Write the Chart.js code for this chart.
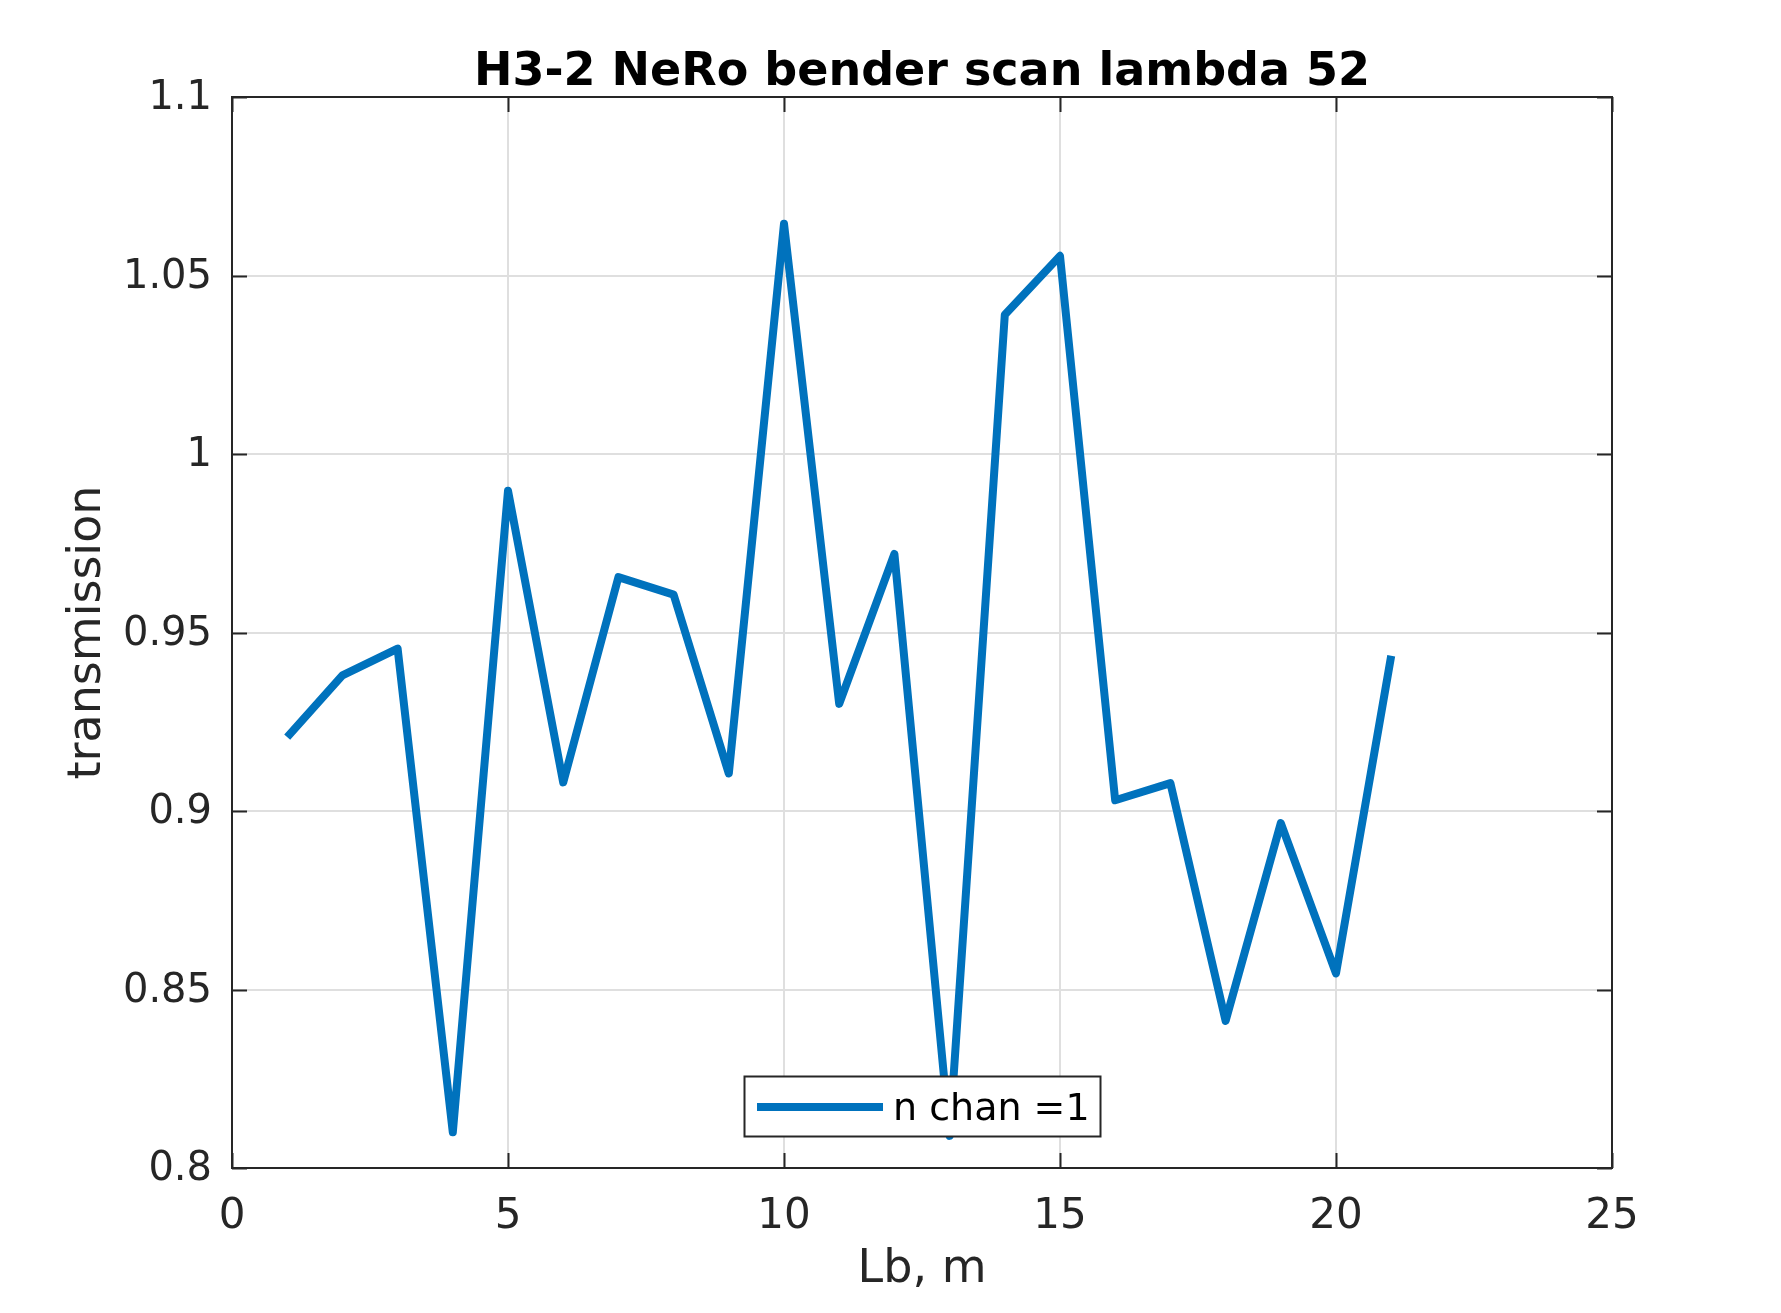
<!DOCTYPE html>
<html>
<head>
<meta charset="utf-8">
<script src="https://cdn.jsdelivr.net/npm/chart.js@4/dist/chart.umd.min.js"></script>
<style>
  html, body { margin: 0; padding: 0; background: #ffffff; }
  #wrap { width: 1781px; height: 1313px; }
</style>
</head>
<body>
<div id="wrap"><canvas id="c" width="1781" height="1313"></canvas></div>
<script>
const chartTitle = 'H3-2 NeRo bender scan lambda 52';
const xTitle = 'Lb, m';
const yTitle = 'transmission';
const seriesName = 'n chan =1';
const benderLength = [1, 2, 3, 4, 5, 6, 7, 8, 9, 10, 11, 12, 13, 14, 15, 16, 17, 18, 19, 20, 21];
const transmission = [0.9207, 0.938, 0.9455, 0.810, 0.9897, 0.908, 0.9655, 0.9606, 0.9105, 1.0645, 0.930,
                      0.972, 0.809, 1.039, 1.0555, 0.903, 0.9078, 0.8412, 0.8966, 0.8545, 0.9435];
const xTicks = [0, 5, 10, 15, 20, 25];
const yTicks = [0.8, 0.85, 0.9, 0.95, 1, 1.05, 1.1];
const yTickLabels = ['0.8', '0.85', '0.9', '0.95', '1', '1.05', '1.1'];

const AX = '#262626';
const LINE = '#0072BD';
const FONT = '"DejaVu Sans", "Liberation Sans", sans-serif';

const decor = {
  id: 'decor',
  beforeDraw(chart) {
    const ctx = chart.ctx;
    ctx.save();
    ctx.fillStyle = '#ffffff';
    ctx.fillRect(0, 0, chart.width, chart.height);
    ctx.restore();
  },
  afterDatasetsDraw(chart) {
    const ctx = chart.ctx;
    const a = chart.chartArea;
    const xs = chart.scales.x, ys = chart.scales.y;
    ctx.save();
    // inner tick marks
    ctx.strokeStyle = AX;
    ctx.lineWidth = 2;
    const tl = 15;
    ctx.beginPath();
    xTicks.forEach(v => {
      const px = Math.round(xs.getPixelForValue(v)) + 0.5;
      ctx.moveTo(px, a.bottom); ctx.lineTo(px, a.bottom - tl);
      ctx.moveTo(px, a.top); ctx.lineTo(px, a.top + tl);
    });
    yTicks.forEach(v => {
      const py = Math.round(ys.getPixelForValue(v)) + 0.5;
      ctx.moveTo(a.left, py); ctx.lineTo(a.left + tl, py);
      ctx.moveTo(a.right, py); ctx.lineTo(a.right - tl, py);
    });
    ctx.stroke();
    // box
    ctx.strokeRect(a.left, a.top, a.right - a.left, a.bottom - a.top);

    const cx = (a.left + a.right) / 2;
    // title
    ctx.fillStyle = '#000000';
    ctx.font = 'bold 46px ' + FONT;
    ctx.textAlign = 'center';
    ctx.textBaseline = 'alphabetic';
    ctx.fillText(chartTitle, cx, a.top - 12);
    // x title
    ctx.fillStyle = AX;
    ctx.font = '46px ' + FONT;
    ctx.fillText(xTitle, cx, a.bottom + 114);
    // y title
    ctx.save();
    ctx.translate(a.left - 132, (a.top + a.bottom) / 2);
    ctx.rotate(-Math.PI / 2);
    ctx.fillText(yTitle, 0, 0);
    ctx.restore();

    // legend (south, inside)
    const bw = 356, bh = 60;
    const bx = Math.round(cx - bw / 2), by = Math.round(a.bottom - 32 - bh);
    ctx.fillStyle = '#ffffff';
    ctx.fillRect(bx, by, bw, bh);
    ctx.strokeStyle = AX;
    ctx.lineWidth = 2;
    ctx.strokeRect(bx + 0.5, by + 0.5, bw, bh);
    ctx.strokeStyle = LINE;
    ctx.lineWidth = 8;
    ctx.lineCap = 'butt';
    ctx.beginPath();
    ctx.moveTo(bx + 13, by + 31);
    ctx.lineTo(bx + 139, by + 31);
    ctx.stroke();
    ctx.fillStyle = '#000000';
    ctx.font = '38px ' + FONT;
    ctx.textAlign = 'left';
    ctx.fillText(seriesName, bx + 149, by + 44);
    ctx.restore();
  }
};

new Chart(document.getElementById('c'), {
  type: 'line',
  data: {
    datasets: [{
      label: seriesName,
      data: benderLength.map((x, i) => ({ x: x, y: transmission[i] })),
      borderColor: LINE,
      backgroundColor: LINE,
      borderWidth: 8,
      borderCapStyle: 'butt',
      borderJoinStyle: 'round',
      pointRadius: 0,
      tension: 0,
      fill: false
    }]
  },
  options: {
    responsive: false,
    animation: false,
    devicePixelRatio: 1,
    layout: { padding: { top: 97, left: 0, right: 169, bottom: 0 } },
    plugins: {
      legend: { display: false },
      title: { display: false },
      tooltip: { enabled: false }
    },
    scales: {
      x: {
        type: 'linear',
        min: 0, max: 25,
        afterFit(s) { s.height = 145; },
        afterBuildTicks(s) { s.ticks = xTicks.map(v => ({ value: v })); },
        grid: { color: '#dfdfdf', lineWidth: 2, drawTicks: false },
        border: { display: false },
        ticks: {
          padding: 24,
          color: AX,
          font: { family: FONT, size: 42 },
          maxRotation: 0,
          callback: v => String(v)
        }
      },
      y: {
        type: 'linear',
        min: 0.8, max: 1.1,
        afterFit(s) { s.width = 232; },
        afterBuildTicks(s) { s.ticks = yTicks.map(v => ({ value: v })); },
        grid: { color: '#dfdfdf', lineWidth: 2, drawTicks: false },
        border: { display: false },
        ticks: {
          padding: 20,
          labelOffset: 2,
          color: AX,
          font: { family: FONT, size: 40 },
          callback: function (v) {
            const i = yTicks.findIndex(t => Math.abs(t - v) < 1e-9);
            return i >= 0 ? yTickLabels[i] : '';
          }
        }
      }
    }
  },
  plugins: [decor]
});
</script>
</body>
</html>
